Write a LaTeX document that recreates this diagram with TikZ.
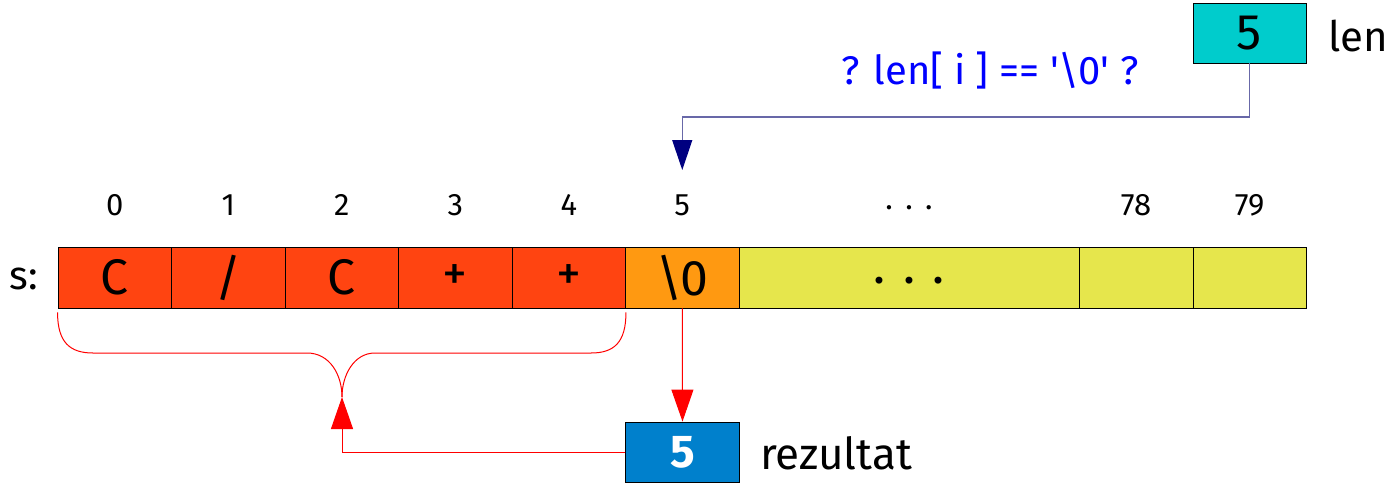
\documentclass[tikz,border=0pt]{standalone}
\usepackage{fontspec}
\setmainfont{Fira Sans}
\usetikzlibrary{arrows.meta}
\definecolor{cred}{HTML}{FF4411}
\definecolor{corange}{HTML}{FF9911}
\definecolor{cyellow}{HTML}{E6E64C}
\definecolor{cteal}{HTML}{00CCCC}
\definecolor{cblue}{HTML}{0080CC}
\definecolor{navyline}{HTML}{6868A8}
\definecolor{navyhead}{HTML}{000080}
\tikzset{
  cell/.style={draw=black, line width=0.9pt, inner sep=0pt, minimum height=61pt, minimum width=113.5pt, font=\fontsize{50}{50}\selectfont},
  idx/.style={inner sep=0pt, font=\fontsize{31}{31}\selectfont},
  lbl/.style={inner sep=0pt, anchor=west, font=\fontsize{42}{42}\selectfont},
  redline/.style={draw=red, line width=1pt},
  redarrow/.style={redline, -{Triangle[length=32pt,width=22pt]}},
  navyarrow/.style={draw=navyline, line width=1.2pt, -{Triangle[length=30pt,width=20pt,color=navyhead,fill=navyhead]}}
}
\begin{document}
\begin{tikzpicture}[x=1pt,y=-1pt]
\useasboundingbox (0,0) rectangle (1399,485);
% array cells
\node[cell, fill=cred] (c0) at (114.75,277.5) {C};
\node[cell, fill=cred] (c1) at (228.25,277.5) {/};
\node[cell, fill=cred] (c2) at (341.75,277.5) {C};
\node[cell, fill=cred] (c3) at (455.25,277.5) {+};
\node[cell, fill=cred] (c4) at (568.75,277.5) {+};
\node[cell, fill=corange] (c5) at (682.25,277.5) {\textbackslash\kern-2pt 0};
\node[cell, fill=cyellow, minimum width=340pt] (cd) at (909,277.5) {\raisebox{-0.45ex}{.\hspace{0.35em}.\hspace{0.35em}.}};
\node[cell, fill=cyellow, minimum width=114pt] (c78) at (1136,277.5) {};
\node[cell, fill=cyellow, minimum width=113pt] (c79) at (1249.5,277.5) {};
\node[inner sep=0pt, font=\fontsize{40}{40}\selectfont] (s) at (24,279) {s:};
% indices
\node[idx] (i0) at (c0 |- 0,205) {0};
\node[idx] (i1) at (c1 |- 0,205) {1};
\node[idx] (i2) at (c2 |- 0,205) {2};
\node[idx] (i3) at (c3 |- 0,205) {3};
\node[idx] (i4) at (c4 |- 0,205) {4};
\node[idx] (i5) at (c5 |- 0,205) {5};
\node[idx] (id) at (cd |- 0,208) {.\hspace{0.4em}.\hspace{0.4em}.};
\node[idx] (i78) at (c78 |- 0,205) {78};
\node[idx] (i79) at (c79 |- 0,205) {79};
% len box
\node[cell, fill=cteal, minimum width=113pt, minimum height=60pt] (lenbox) at (1249.5,33) {5};
\node[lbl] (lenlbl) at (1328,36) {len};
\node[inner sep=0pt, text=blue, font=\fontsize{40}{40}\selectfont] (q) at (990,70) {? len[ i ] == \textquotesingle\textbackslash\kern-1pt 0\textquotesingle{} ?};
\coordinate (lentip) at (682.25,170);
\draw[navyarrow] (lenbox.south) -- (lenbox.south |- 0,117) -| (lentip);
% result box
\node[cell, fill=cblue, text=white, font=\fontsize{46}{46}\selectfont\bfseries, minimum height=60pt] (rez) at (682.5,452) {5};
\node[lbl, font=\fontsize{44}{44}\selectfont] (rezlbl) at (760,453) {rezultat};
\draw[redarrow] (c5.south) -- (rez.north);
% brace
\coordinate (cusp) at (342,397);
\draw[redline] ([yshift=-4pt]c0.south west) .. controls +(0,30) and (70,353) .. (93,353) -- (307,353) .. controls (330,353) and (342,375) .. (cusp);
\draw[redline] ([yshift=-4pt]c4.south east) .. controls +(0,30) and (614,353) .. (591,353) -- (375,353) .. controls (354,353) and (342,375) .. (cusp);
\draw[redarrow] (rez.west) -| (cusp);
\end{tikzpicture}
\end{document}
